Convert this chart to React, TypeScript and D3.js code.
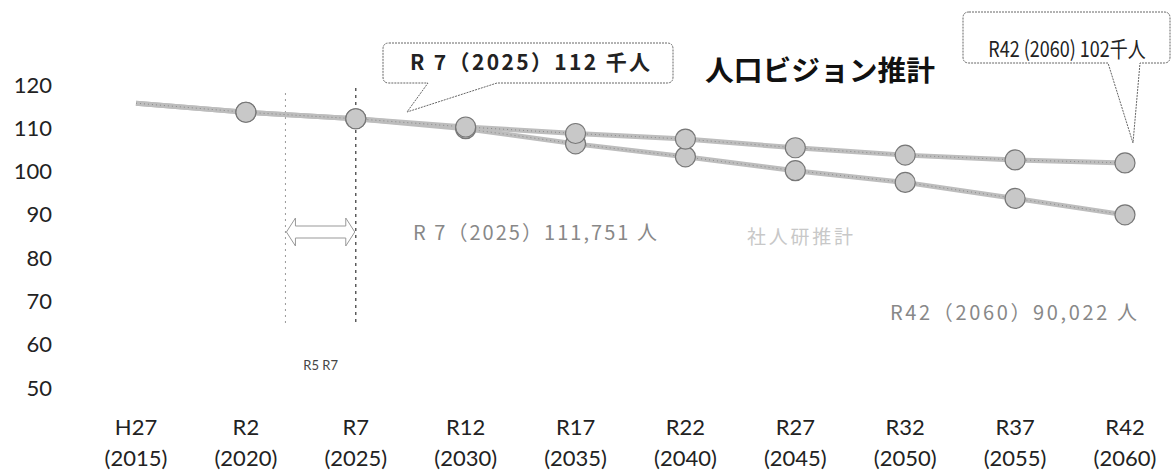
import { useRef, useEffect } from 'react';
import * as d3 from 'd3';

const ERAS = ['H27', 'R2', 'R7', 'R12', 'R17', 'R22', 'R27', 'R32', 'R37', 'R42'];
const YEARS = [2015, 2020, 2025, 2030, 2035, 2040, 2045, 2050, 2055, 2060];
// 人口ビジョン推計 (千人)
const VISION = [115.8, 113.7, 112.2, 110.3, 108.8, 107.5, 105.5, 103.8, 102.7, 102.0];
// 社人研推計 (千人)
const IPSS = [115.8, 113.7, 112.2, 109.9, 106.4, 103.4, 100.2, 97.5, 93.8, 90.0];
const Y_TICKS = [50, 60, 70, 80, 90, 100, 110, 120];
const GUIDE_YEARS = [2021.8, 2025];

const FONT = 'Lato, "Open Sans", sans-serif';
const JP = '"Noto Sans CJK JP", sans-serif';

export default function App() {
  const svgRef = useRef<SVGSVGElement>(null);
  const width = 1175;
  const height = 471;

  useEffect(() => {
    const svg = d3.select(svgRef.current);
    svg.selectAll('*').remove();

    const x = d3.scalePoint<string>().domain(ERAS).range([136, 1125]);
    const xYear = d3.scaleLinear().domain([2015, 2060]).range([136, 1125]);
    const y = d3.scaleLinear().domain([50, 120]).range([388, 85]);

    // Y axis labels
    svg.append('g')
      .attr('transform', 'translate(52,0)')
      .call(d3.axisLeft(y).tickValues(Y_TICKS).tickSize(0).tickPadding(0))
      .call((g) => g.select('.domain').remove())
      .call((g) => g.selectAll('text')
        .attr('fill', '#222')
        .style('font-family', FONT)
        .style('font-size', '22px'));

    // X axis labels (two rows)
    const xl = svg.append('g');
    ERAS.forEach((era, i) => {
      const t = xl.append('text')
        .attr('x', x(era)!)
        .attr('text-anchor', 'middle')
        .attr('fill', '#222')
        .style('font-family', FONT)
        .style('font-size', '22px');
      t.append('tspan').attr('x', x(era)!).attr('y', 435).text(era);
      t.append('tspan').attr('x', x(era)!).attr('y', 466).text(`(${YEARS[i]})`);
    });

    // R5 / R7 guides
    const [g1, g2] = GUIDE_YEARS.map((d) => xYear(d));
    svg.append('line')
      .attr('x1', g1).attr('x2', g1).attr('y1', 93).attr('y2', 325)
      .attr('stroke', '#999').attr('stroke-width', 1).attr('stroke-dasharray', '2,4');
    svg.append('line')
      .attr('x1', g2).attr('x2', g2).attr('y1', 88).attr('y2', 325)
      .attr('stroke', '#444').attr('stroke-width', 1.3).attr('stroke-dasharray', '3,4');

    // double arrow between guides
    const ay = 232;
    const hl = 10;
    const sw = 6;
    const hw = 14;
    const arrow = [
      [g1 + 1, ay], [g1 + hl, ay - hw], [g1 + hl, ay - sw], [g2 - hl, ay - sw], [g2 - hl, ay - hw],
      [g2 - 1, ay], [g2 - hl, ay + hw], [g2 - hl, ay + sw], [g1 + hl, ay + sw], [g1 + hl, ay + hw],
    ];
    svg.append('path')
      .attr('d', d3.line()(arrow as [number, number][]) + 'Z')
      .attr('fill', '#fff').attr('stroke', '#999').attr('stroke-width', 1);

    svg.append('text')
      .attr('x', (g1 + g2) / 2).attr('y', 370)
      .attr('text-anchor', 'middle').attr('fill', '#444')
      .style('font-family', FONT).style('font-size', '13px')
      .text('R5  R7');

    // series
    const line = d3.line<number>()
      .x((_, i) => x(ERAS[i])!)
      .y((d) => y(d));

    [IPSS, VISION].forEach((series) => {
      svg.append('path')
        .attr('d', line(series))
        .attr('fill', 'none')
        .attr('stroke', '#bdbdbd')
        .attr('stroke-width', 5);
      svg.append('path')
        .attr('d', line(series))
        .attr('fill', 'none')
        .attr('stroke', '#8a8a8a')
        .attr('stroke-width', 1)
        .attr('stroke-dasharray', '1,3');
    });

    [IPSS, VISION].forEach((series) => {
      svg.append('g')
        .selectAll('circle')
        .data(series.slice(1))
        .join('circle')
        .attr('cx', (_, i) => x(ERAS[i + 1])!)
        .attr('cy', (d) => y(d))
        .attr('r', 10)
        .attr('fill', '#c8c8c8')
        .attr('stroke', '#777')
        .attr('stroke-width', 1.2);
    });

    // callout: R7 112千人
    svg.append('path')
      .attr('d', 'M389,43 H667 Q673,43 673,49 V77 Q673,83 667,83 H497 L407,112 L428,83 H389 Q383,83 383,77 V49 Q383,43 389,43 Z')
      .attr('fill', '#fff').attr('stroke', '#666').attr('stroke-width', 1)
      .attr('stroke-dasharray', '2,1');
    svg.append('text')
      .attr('x', 410).attr('y', 70)
      .attr('textLength', 240).attr('lengthAdjust', 'spacing')
      .attr('fill', '#222').attr('font-weight', 'bold')
      .style('font-family', JP).style('font-size', '21px')
      .text('R 7（2025）112 千人');

    // title
    svg.append('text')
      .attr('x', 705).attr('y', 81)
      .attr('textLength', 230).attr('lengthAdjust', 'spacingAndGlyphs')
      .attr('fill', '#111').attr('font-weight', 'bold')
      .style('font-family', JP).style('font-size', '28px')
      .text('人口ビジョン推計');

    // callout: R42 102千人 (tall, narrow lettering)
    svg.append('path')
      .attr('d', 'M969,12 H1164 Q1170,12 1170,18 V57 Q1170,63 1164,63 H1140 L1133,143 L1108,63 H969 Q963,63 963,57 V18 Q963,12 969,12 Z')
      .attr('fill', '#fff').attr('stroke', '#666').attr('stroke-width', 1)
      .attr('stroke-dasharray', '2,1');
    svg.append('text')
      .attr('transform', 'translate(1067,57) scale(1,1.2)')
      .attr('text-anchor', 'middle')
      .attr('fill', '#222')
      .style('font-family', JP).style('font-size', '18px')
      .text('R42 (2060) 102千人');

    // gray annotations
    svg.append('text')
      .attr('x', 413).attr('y', 240)
      .attr('textLength', 244).attr('lengthAdjust', 'spacing')
      .attr('fill', '#888')
      .style('font-family', JP).style('font-size', '20px')
      .text('R 7（2025）111,751 人');
    svg.append('text')
      .attr('x', 747).attr('y', 244)
      .attr('textLength', 106).attr('lengthAdjust', 'spacing')
      .attr('fill', '#c8c8c8')
      .style('font-family', JP).style('font-size', '19px')
      .text('社人研推計');
    svg.append('text')
      .attr('x', 890).attr('y', 320)
      .attr('textLength', 247).attr('lengthAdjust', 'spacing')
      .attr('fill', '#888')
      .style('font-family', JP).style('font-size', '20px')
      .text('R42（2060）90,022 人');
  }, []);

  return (
    <svg
      ref={svgRef}
      width={width}
      height={height}
      style={{ position: 'absolute', left: 0, top: 0, background: '#fff' }}
    />
  );
}
